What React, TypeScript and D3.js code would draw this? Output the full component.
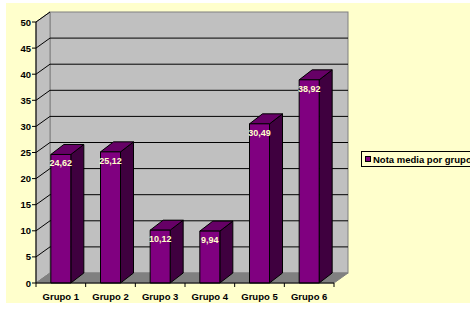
import React from "react";
import * as d3 from "d3";

const categories = ["Grupo 1", "Grupo 2", "Grupo 3", "Grupo 4", "Grupo 5", "Grupo 6"];
const values = [24.62, 25.12, 10.12, 9.94, 30.49, 38.92];
const valueLabels = ["24,62", "25,12", "10,12", "9,94", "30,49", "38,92"];
const yTicks = [0, 5, 10, 15, 20, 25, 30, 35, 40, 45, 50];
const seriesName = "Nota media por grupo";

const FONT = "'Liberation Sans', Arial, sans-serif";

export default function App() {
  const W = 470, H = 311;
  const x0 = 36, x1 = 334;
  const WD = 14, WDy = -10; // wall depth
  const BD = 13, BDy = -10; // bar depth
  const y = d3.scaleLinear().domain([0, 50]).range([283, 22]);
  const x = d3.scaleBand<string>().domain(categories).range([x0, x1]);
  const bw = 20;
  const yb = (v: number) => y(v) + WDy; // back wall y
  const pts = (p: number[][]) => p.map((q) => q.join(",")).join(" ");

  return (
    <svg width={W} height={H} style={{ position: "absolute", left: 0, top: 0 }}>
      <rect x={0} y={0} width={W} height={H} fill="#ffffff" />
      <rect x={6} y={3} width={W - 6} height={300} fill="#FFFFCC" />
      {/* back wall */}
      <rect x={x0 + WD} y={yb(50)} width={x1 - x0} height={yb(0) - yb(50)} fill="#C0C0C0" stroke="#808080" strokeWidth={1} />
      {/* side wall */}
      <polygon points={pts([[x0, y(50)], [x0 + WD, yb(50)], [x0 + WD, yb(0)], [x0, y(0)]])} fill="#C0C0C0" stroke="#808080" strokeWidth={1} />
      {/* gridlines */}
      {yTicks.map((t) => (
        <g key={"g" + t}>
          {t > 0 && t < 50 && (
            <line x1={x0 + WD} x2={x1 + WD} y1={yb(t)} y2={yb(t)} stroke="#000" strokeWidth={1} />
          )}
          {t > 0 && <line x1={x0} y1={y(t)} x2={x0 + WD} y2={yb(t)} stroke="#000" strokeWidth={1} />}
        </g>
      ))}
      {/* floor */}
      <polygon points={pts([[x0, y(0)], [x0 + WD, yb(0)], [x1 + WD, yb(0)], [x1, y(0)]])} fill="#808080" stroke="#808080" strokeWidth={1} />
      {/* bars */}
      {categories.map((c, i) => {
        const cx = (x(c) as number) + x.bandwidth() / 2;
        const l = cx - bw / 2, r = cx + bw / 2;
        const top = y(values[i]), bot = y(0);
        return (
          <g key={c} stroke="#000" strokeWidth={1} strokeLinejoin="round">
            <polygon points={pts([[r, top], [r + BD, top + BDy], [r + BD, bot + BDy], [r, bot]])} fill="#3F003F" />
            <polygon points={pts([[l, top], [l + BD, top + BDy], [r + BD, top + BDy], [r, top]])} fill="#660066" />
            <rect x={l} y={top} width={bw} height={bot - top} fill="#800080" />
            <text x={cx} y={top + 12} textAnchor="middle" fontFamily={FONT} fontWeight="bold" fontSize={9} fill="#FFFFCC" stroke="none">
              {valueLabels[i]}
            </text>
          </g>
        );
      })}
      {/* y axis */}
      <line x1={x0} x2={x0} y1={y(50)} y2={y(0)} stroke="#000" />
      {yTicks.map((t) => (
        <g key={"t" + t}>
          <line x1={x0 - 4} x2={x0} y1={y(t)} y2={y(t)} stroke="#000" />
          <text x={31} y={y(t) + 3.5} textAnchor="end" fontFamily={FONT} fontWeight="bold" fontSize={9.5} fill="#000">
            {t}
          </text>
        </g>
      ))}
      {/* x axis */}
      <line x1={x0} x2={x1} y1={y(0)} y2={y(0)} stroke="#000" />
      {[...categories.map((c) => x(c) as number), x1].map((v, i) => (
        <line key={"xt" + i} x1={v} x2={v} y1={y(0)} y2={y(0) + 4} stroke="#000" />
      ))}
      {categories.map((c) => (
        <text key={"xl" + c} x={(x(c) as number) + x.bandwidth() / 2} y={300} textAnchor="middle" fontFamily={FONT} fontWeight="bold" fontSize={9.5} fill="#000">
          {c}
        </text>
      ))}
      {/* legend */}
      <rect x={361.5} y={151.5} width={120} height={15} fill="#FFFFCC" stroke="#000" />
      <rect x={365.5} y={156.5} width={5} height={5} fill="#800080" stroke="#000" />
      <text x={373} y={162.5} fontFamily={FONT} fontWeight="bold" fontSize={9.5} fill="#000">
        {seriesName}
      </text>
    </svg>
  );
}
